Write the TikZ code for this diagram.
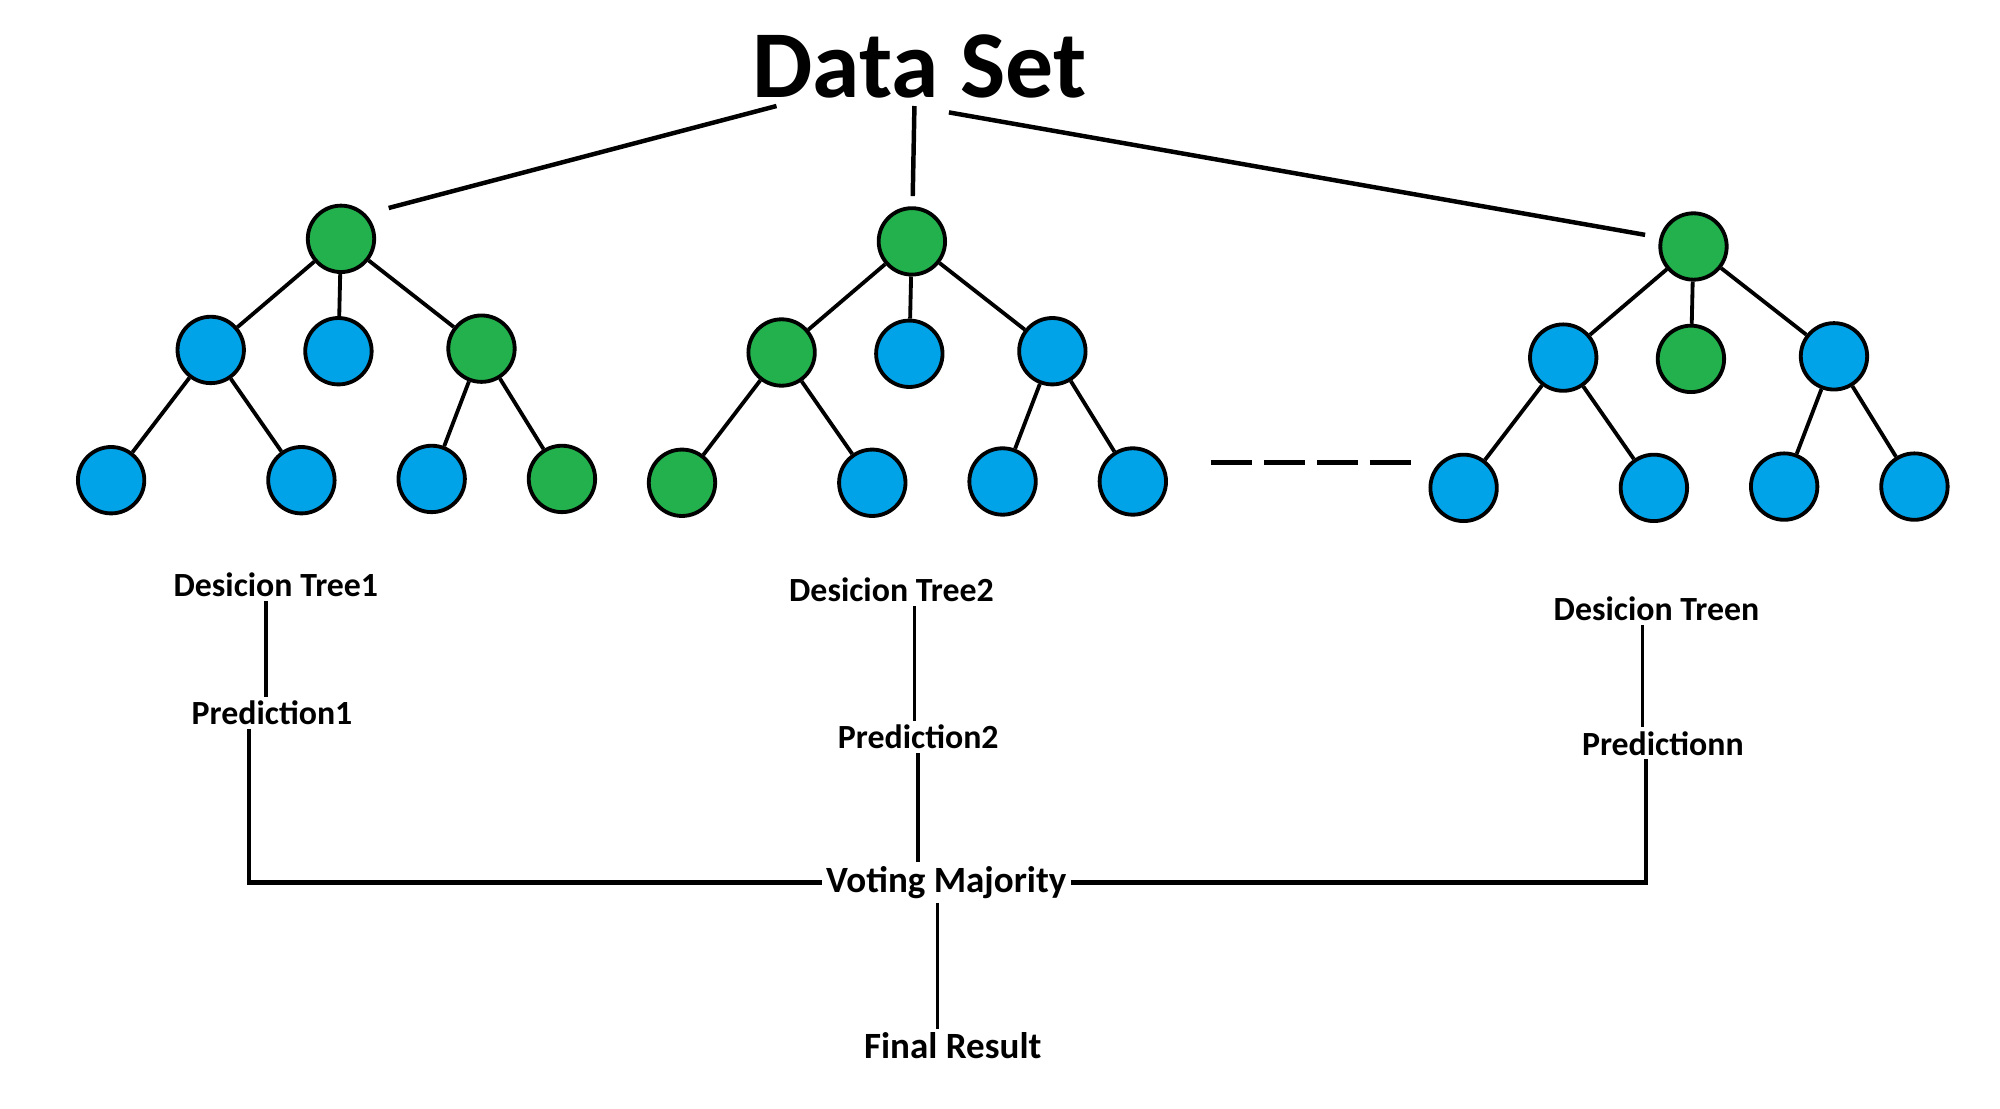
\documentclass[tikz,border=0pt]{standalone}
\usepackage{fontspec}
\setmainfont{Carlito}
\usetikzlibrary{calc,positioning}
\definecolor{treegreen}{HTML}{22B14C}
\definecolor{treeblue}{HTML}{00A2E8}
\tikzset{
	tnode/.style={circle,draw,line width=3pt,minimum size=52pt,inner sep=0pt},
	gnode/.style={tnode,fill=treegreen},
	bnode/.style={tnode,fill=treeblue},
	edge/.style={line width=3pt},
	link/.style={line width=3pt},
	lbl/.style={font=\fontsize{26.5}{30}\selectfont\bfseries,inner sep=3pt},
	biglbl/.style={font=\fontsize{29}{33}\selectfont\bfseries,inner sep=3pt},
}
% one decision tree: name, root position, colours of the seven lower nodes
\newcommand{\dectree}[9]{%
	\node[gnode] (#1) at (#2) {};
	\node[#3] (#1a) at ($(#1)+(-102,87)$) {};
	\node[#4] (#1b) at ($(#1)+(-2,88)$) {};
	\node[#5] (#1c) at ($(#1)+(110,86)$) {};
	\node[#6] (#1aa) at ($(#1a)+(-78,102)$) {};
	\node[#7] (#1ab) at ($(#1a)+(71,102)$) {};
	\node[#8] (#1ca) at ($(#1c)+(-39,102)$) {};
	\node[#9] (#1cb) at ($(#1c)+(63,102)$) {};
	\draw[edge] (#1) -- (#1a);
	\draw[edge] (#1) -- (#1b);
	\draw[edge] (#1) -- (#1c);
	\draw[edge] (#1a) -- (#1aa);
	\draw[edge] (#1a) -- (#1ab);
	\draw[edge] (#1c) -- (#1ca);
	\draw[edge] (#1c) -- (#1cb);
}
\begin{document}
\begin{tikzpicture}[x=1pt,y=-1pt]
	\path[use as bounding box,fill=white] (0,0) rectangle (1566,868);
	\node[font=\fontsize{75}{80}\selectfont\bfseries,inner sep=0pt] (ds) at (720,52) {Data Set};
	\coordinate (ds1) at (608,83);
	\coordinate (ds2) at (716,83);
	\coordinate (ds3) at (743,88);
	
	\dectree{t1}{267,187}{bnode}{bnode}{gnode}{bnode}{bnode}{bnode}{gnode}
	\dectree{t2}{714,189}{gnode}{bnode}{bnode}{gnode}{bnode}{bnode}{bnode}
	\dectree{t3}{1326,193}{bnode}{gnode}{bnode}{bnode}{bnode}{bnode}{bnode}
	
	\draw[line width=3.5pt,shorten >=18.5pt] (ds1) -- (t1.45);
	\draw[line width=3.5pt,shorten >=8pt] (ds2) -- (t2);
	\draw[line width=3.5pt,shorten >=11.5pt] (ds3) -- (t3.165);
	\draw[line width=4pt,dash pattern=on 32pt off 9.6pt,shorten <=33.5pt,shorten >=13.5pt] ([yshift=15pt]t2cb.east) -- ([yshift=15pt]t2cb.east -| t3aa.west);
	
	\node[lbl] (dt1) at (216,458) {Desicion Tree1};
	\node[lbl] (p1) at (213,558) {Prediction1};
	\node[lbl] (dt2) at (698,462) {Desicion Tree2};
	\node[lbl] (p2) at (719,577) {Prediction2};
	\node[lbl] (dtn) at (1297,477) {Desicion Treen};
	\node[lbl] (pn) at (1302,582) {Predictionn};
	\node[biglbl] (vm) at (741,691) {Voting Majority};
	\node[biglbl] (fr) at (746,819) {Final Result};
	
	\draw[link] ([xshift=-8pt]dt1.south) -- ([xshift=-5pt]p1.north);
	\draw[link] ([xshift=18pt]dt2.south) -- ([xshift=-3pt]p2.north);
	\draw[link] ([xshift=-11pt]dtn.south) -- ([xshift=-16pt]pn.north);
	\draw[link,line width=3.5pt] ([xshift=-18pt]p1.south) |- (vm.west);
	\draw[link] (p2.south) -- (p2.south |- vm.north);
	\draw[link,line width=3.5pt] ([xshift=-13pt]pn.south) |- (vm.east);
	\draw[link] ([xshift=-7pt]vm.south) -- ([xshift=-12pt]fr.north);
\end{tikzpicture}
\end{document}
